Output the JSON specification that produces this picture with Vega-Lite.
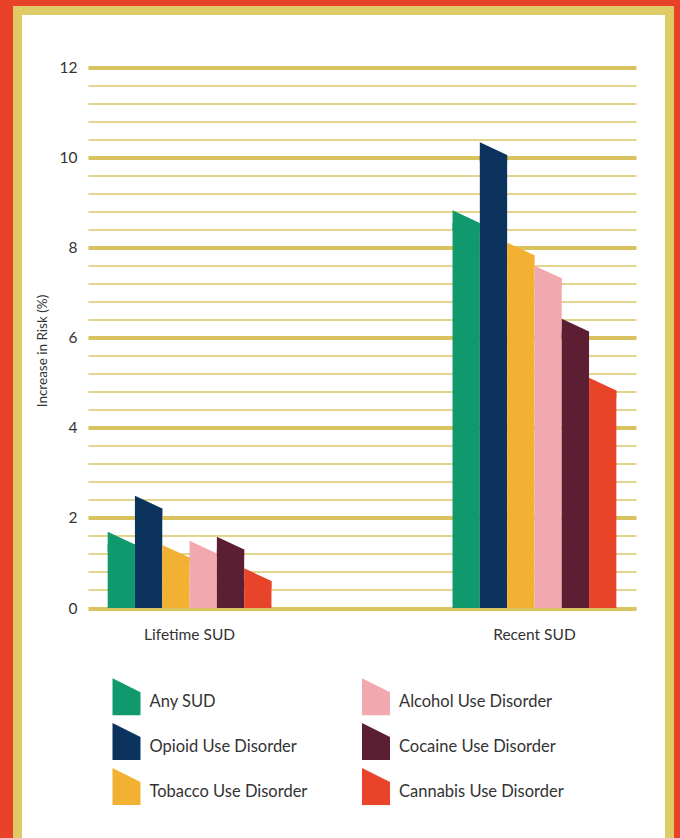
{
  "$schema": "https://vega.github.io/schema/vega-lite/v6.json",
  "width": 652,
  "height": 833,
  "autosize": {"type": "none"},
  "padding": {"left": 17.5, "top": 10.5, "right": 10.5, "bottom": -5.5},
  "background": "#E8432A",
  "view": {"fill": "#FFFFFF", "stroke": "#DECB66", "strokeWidth": 9},
  "config": {"font": "Lato"},
  "data": {
    "values": [
      {"group": "Lifetime SUD", "series": "Any SUD", "value": 1.55},
      {"group": "Lifetime SUD", "series": "Opioid Use Disorder", "value": 2.35},
      {"group": "Lifetime SUD", "series": "Tobacco Use Disorder", "value": 1.26},
      {"group": "Lifetime SUD", "series": "Alcohol Use Disorder", "value": 1.35},
      {"group": "Lifetime SUD", "series": "Cocaine Use Disorder", "value": 1.44},
      {"group": "Lifetime SUD", "series": "Cannabis Use Disorder", "value": 0.74},
      {"group": "Recent SUD", "series": "Any SUD", "value": 8.69},
      {"group": "Recent SUD", "series": "Opioid Use Disorder", "value": 10.2},
      {"group": "Recent SUD", "series": "Tobacco Use Disorder", "value": 7.97},
      {"group": "Recent SUD", "series": "Alcohol Use Disorder", "value": 7.46},
      {"group": "Recent SUD", "series": "Cocaine Use Disorder", "value": 6.28},
      {"group": "Recent SUD", "series": "Cannabis Use Disorder", "value": 4.97}
    ]
  },
  "encoding": {
    "x": {
      "field": "group",
      "type": "nominal",
      "sort": ["Lifetime SUD", "Recent SUD"],
      "scale": {"range": [70.5, 618.5], "paddingInner": 0.525, "paddingOuter": 0.057},
      "axis": {
        "title": null,
        "orient": "bottom",
        "offset": -235.5,
        "domain": false,
        "ticks": false,
        "grid": false,
        "labelAngle": 0,
        "labelPadding": 19,
        "labelFontSize": 15.5,
        "labelColor": "#333333"
      }
    },
    "xOffset": {
      "field": "series",
      "type": "nominal",
      "scale": {
        "domain": ["Any SUD", "Opioid Use Disorder", "Tobacco Use Disorder", "Alcohol Use Disorder", "Cocaine Use Disorder", "Cannabis Use Disorder"],
        "paddingInner": 0,
        "paddingOuter": 0
      }
    },
    "y": {
      "field": "value",
      "type": "quantitative",
      "stack": null,
      "scale": {"domain": [0, 12], "range": [597.5, 57], "nice": false},
      "axis": {
        "title": "Increase in Risk (%)",
        "values": [0, 0.4, 0.8, 1.2, 1.6, 2, 2.4, 2.8, 3.2, 3.6, 4, 4.4, 4.8, 5.2, 5.6, 6, 6.4, 6.8, 7.2, 7.6, 8, 8.4, 8.8, 9.2, 9.6, 10, 10.4, 10.8, 11.2, 11.6, 12],
        "offset": -70.5,
        "domain": false,
        "ticks": false,
        "grid": true,
        "gridWidth": {"condition": {"test": "datum.value % 2 === 0", "value": 4}, "value": 2},
        "gridColor": {"condition": {"test": "datum.value % 2 === 0", "value": "#D8C35F"}, "value": "#E3D58E"},
        "labelExpr": "datum.value % 2 === 0 ? format(datum.value, 'd') : ''",
        "labelOverlap": false,
        "labelPadding": 11,
        "labelFontSize": 15.5,
        "labelColor": "#333333",
        "titleFontSize": 13.5,
        "titleFontWeight": "normal",
        "titleColor": "#333333",
        "titlePadding": 10,
        "titleY": 340
      }
    },
    "color": {
      "field": "series",
      "type": "nominal",
      "scale": {
        "domain": ["Any SUD", "Opioid Use Disorder", "Tobacco Use Disorder", "Alcohol Use Disorder", "Cocaine Use Disorder", "Cannabis Use Disorder"],
        "range": ["#11996E", "#0B335E", "#F2B133", "#F1A8AE", "#5B1E33", "#E8442A"]
      },
      "legend": {
        "orient": "none",
        "legendX": 95,
        "legendY": 677,
        "columns": 2,
        "title": null,
        "symbolType": "M-1,-1.68 L1,-0.68 L1,0.96 L-1,0.96 Z",
        "symbolSize": 784,
        "symbolStrokeWidth": 0,
        "symbolOpacity": 1,
        "labelFontSize": 16.5,
        "labelColor": "#333333",
        "labelOffset": 9,
        "labelLimit": 300,
        "rowPadding": 7,
        "columnPadding": 54.5,
        "padding": 0
      }
    }
  },
  "layer": [
    {"mark": {"type": "bar", "yOffset": 6.35}},
    {"mark": {"type": "point", "shape": "M-1,1 L-1,-0.465 L1,0.465 L1,1 Z", "filled": true, "opacity": 1, "size": 745, "strokeWidth": 0}}
  ]
}
